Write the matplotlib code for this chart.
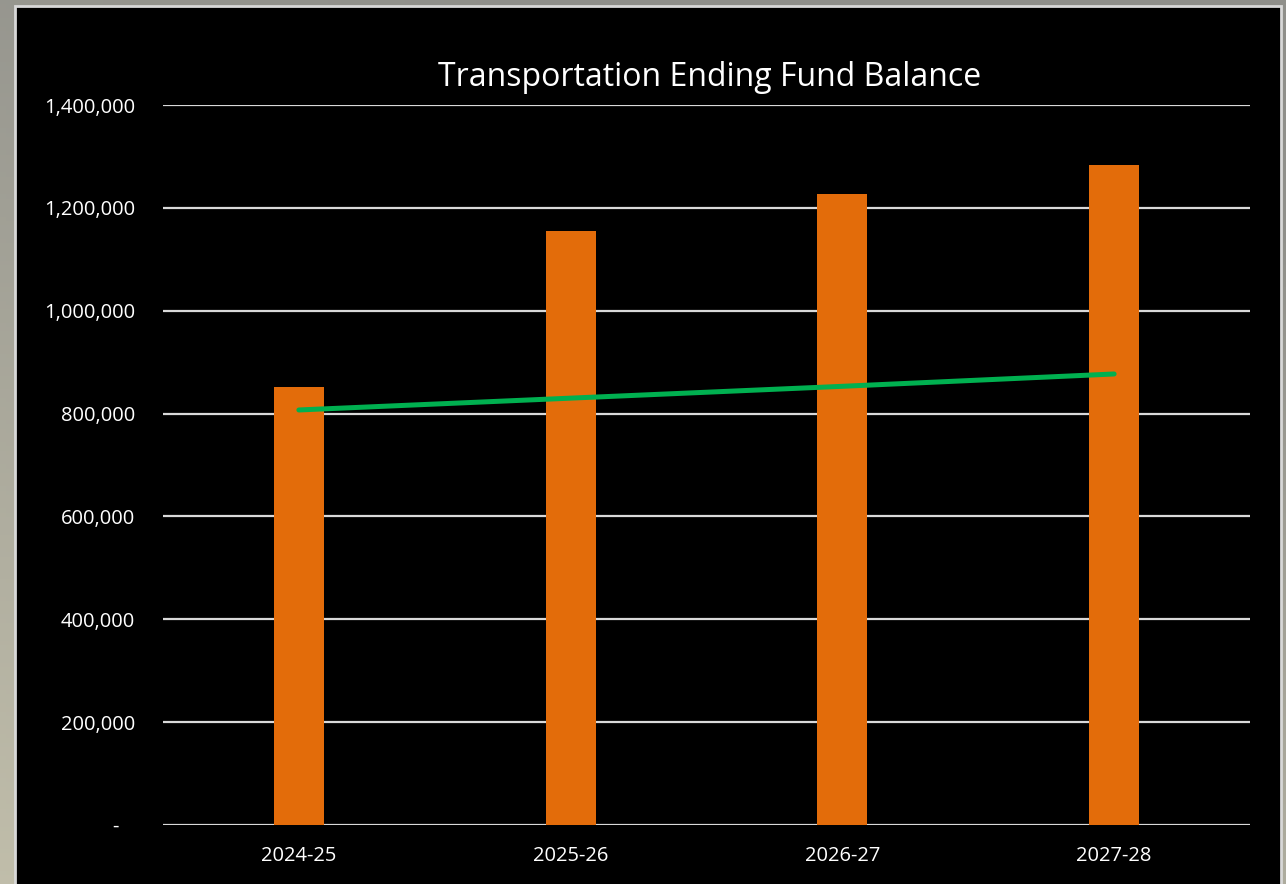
import matplotlib.pyplot as plt
import matplotlib.patches as ptch
import matplotlib.ticker as mtick
import numpy as np

years = ['2024-25', '2025-26', '2026-27', '2027-28']
ending_balance = [852000, 1155000, 1227000, 1284000]
trend = [807000, 830000, 853000, 877000]

plt.rcParams['font.family'] = ['Open Sans', 'DejaVu Sans']

W, H = 1286, 884
fig = plt.figure(figsize=(W / 100, H / 100), dpi=100)

# gray-to-beige backdrop behind the chart
bg = fig.add_axes([0, 0, 1, 1], zorder=-1)
yy, xx = np.mgrid[0:1:200j, 0:1:200j]   # row 0 = top
t = np.clip(yy * 0.8 + (1 - xx) * 0.35 - 0.2, 0, 1)
top = np.array([143, 143, 138]) / 255
bot = np.array([195, 192, 172]) / 255
grad = top + (bot - top) * t[..., None]
bg.imshow(grad, aspect='auto', extent=[0, 1, 0, 1])
bg.set_xlim(0, 1)
bg.set_ylim(0, 1)
# black chart area with thin light border
bg.add_patch(ptch.Rectangle((15 / W, -0.01), (1281 - 15) / W, (H - 6) / H + 0.01,
                            facecolor='black', edgecolor='#d8d8d8', linewidth=2))
bg.axis('off')

ax = fig.add_axes([163 / W, (H - 825) / H, (1250 - 163) / W, (825 - 105) / H])
ax.set_facecolor('none')

x = np.arange(len(years))
ax.bar(x, ending_balance, width=0.184, color='#e36c0a', zorder=3)
ax.plot(x, trend, color='#00b050', linewidth=3.6, solid_capstyle='round', zorder=4)

ax.set_xlim(-0.5, 3.5)
ax.set_ylim(0, 1400000)
ax.set_yticks(np.arange(0, 1400001, 200000))
# accounting style: zero shown as a dash, padded like Excel does
ax.yaxis.set_major_formatter(mtick.FuncFormatter(
    lambda v, p: '-   ' if v == 0 else f'{int(v):,}'))
ax.set_xticks(x)
ax.set_xticklabels(years)
ax.grid(axis='y', color='#d9d9d9', linewidth=1.6, zorder=0)
for s in ax.spines.values():
    s.set_visible(False)
ax.tick_params(length=0, colors='white', labelsize=14.5)
ax.tick_params(axis='y', pad=20)
ax.tick_params(axis='x', pad=15)

fig.text(710 / W, 1 - 77 / H, 'Transportation Ending Fund Balance',
         color='white', fontsize=23, ha='center', va='center')

fig.savefig('out.png', dpi=100)
